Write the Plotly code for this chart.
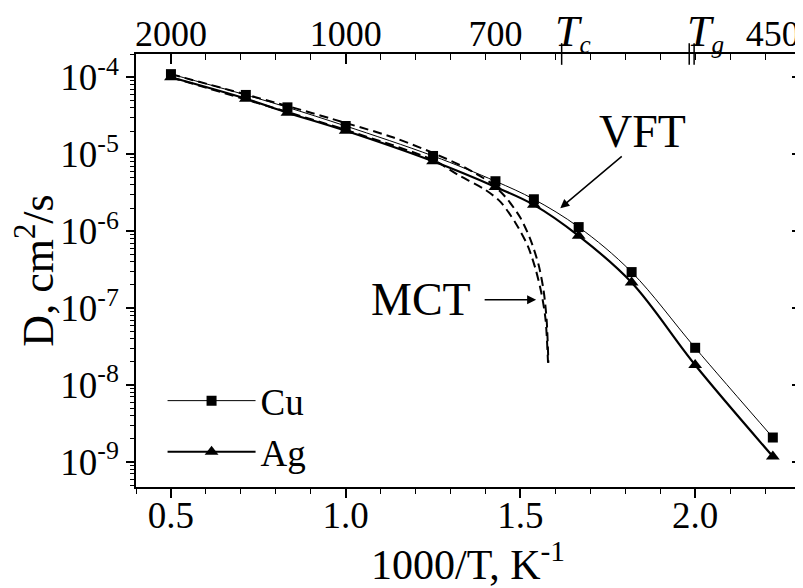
import plotly.graph_objects as go

# ---------------- data ----------------
T_K = [2000, 1400, 1200, 1000, 800, 700, 650, 600, 550, 500, 450]
D_Cu = [1.10e-4, 5.9e-5, 4.07e-5, 2.33e-5, 9.5e-6, 4.46e-6, 2.6e-6, 1.13e-6, 2.94e-7, 3.05e-8, 2.08e-9]
D_Ag = [1.0e-4, 5.27e-5, 3.47e-5, 2.02e-5, 8.1e-6, 3.76e-6, 2.2e-6, 8.7e-7, 2.15e-7, 1.82e-8, 1.18e-9]

mct_cu_x = [0.5, 0.833, 1.0, 1.137, 1.25, 1.343, 1.415, 1.457, 1.5, 1.529, 1.552, 1.566, 1.575, 1.580]
mct_cu_D = [1.10e-4, 4.24e-5, 2.55e-5, 1.65e-5, 1.04e-5, 6.64e-6, 4.24e-6, 2.79e-6, 1.49e-6,
            7.71e-7, 3.65e-7, 1.73e-7, 7.05e-8, 1.95e-8]
mct_ag_x = [0.5, 0.833, 1.0, 1.25, 1.322, 1.400, 1.443, 1.486, 1.521, 1.544, 1.561, 1.572, 1.579]
mct_ag_D = [1.0e-4, 3.54e-5, 2.07e-5, 8.43e-6, 5.38e-6, 3.44e-6, 2.40e-6, 1.28e-6, 6.44e-7,
            3.14e-7, 1.49e-7, 7.05e-8, 1.95e-8]

top_T_labels = [2000, 1000, 700, 450]
Tc_inv = 1.618
Tg_inv = [1.983, 1.997]
Tc_label_x = 1.65
Tg_label_x = 2.03

bottom_ticks = [0.5, 1.0, 1.5, 2.0]
y_decades = [-9, -8, -7, -6, -5, -4]

# ---------------- figure ----------------
FONT = "Liberation Serif, Times New Roman, serif"
inv_T = [1000.0 / t for t in T_K]

fig = go.Figure()

DASH = "9px,5px"
fig.add_trace(go.Scatter(x=mct_cu_x, y=mct_cu_D, mode="lines", showlegend=False,
                         line=dict(color="black", width=2, dash=DASH, shape="spline", smoothing=0.8)))
fig.add_trace(go.Scatter(x=mct_ag_x, y=mct_ag_D, mode="lines", showlegend=False,
                         line=dict(color="black", width=2, dash=DASH, shape="spline", smoothing=0.8)))

fig.add_trace(go.Scatter(x=inv_T, y=D_Cu, mode="lines+markers", name="Cu",
                         line=dict(color="black", width=1, shape="spline", smoothing=1.0),
                         marker=dict(symbol="square", size=10, color="black")))
fig.add_trace(go.Scatter(x=inv_T, y=D_Ag, mode="lines+markers", name="Ag",
                         line=dict(color="black", width=2.2, shape="spline", smoothing=1.0),
                         marker=dict(symbol="triangle-up", size=12, color="black")))

# empty helper traces so that the decorative top / right axes are drawn
for xa, ya in [("x2", "y"), ("x3", "y"), ("x", "y2")]:
    fig.add_trace(go.Scatter(x=[None], y=[None], xaxis=xa, yaxis=ya, mode="markers",
                             showlegend=False, hoverinfo="skip"))

xr = [0.4, 2.3]
yr = [-9.325, -3.697]
minor_x = [round(0.4 + 0.1 * i, 2) for i in range(0, 20)]
y_major = [10.0 ** e for e in y_decades]
y_minor = [m * 10.0 ** e for e in range(-10, -3) for m in range(2, 10)]

axis_common = dict(showgrid=False, zeroline=False, showline=True, linecolor="black",
                   linewidth=1.5, automargin=False)

# the page body adds an 8 px offset, so the figure is drawn 8 px smaller
fig.update_layout(
    template="none",
    width=795, height=580,
    margin=dict(l=128, r=3, t=46, b=101, pad=0),
    plot_bgcolor="white", paper_bgcolor="white",
    font=dict(family=FONT, color="black", size=37),
    showlegend=True,
    xaxis=dict(range=xr, tickvals=bottom_ticks, ticktext=["0.5", "1.0", "1.5", "2.0"],
               ticks="outside", ticklen=9, tickwidth=1.5, tickcolor="black",
               minor=dict(tickvals=minor_x, ticks="outside", ticklen=5, tickwidth=1.2, tickcolor="black"),
               tickfont=dict(size=37), ticklabelstandoff=-14,
               title=dict(text="1000/T, K<sup>-1</sup>", font=dict(size=42), standoff=0),
               **axis_common),
    yaxis=dict(type="log", range=yr, tickvals=y_major,
               ticktext=["10<sup>%d</sup>" % e for e in y_decades],
               ticks="outside", ticklen=8, tickwidth=1.5, tickcolor="black",
               minor=dict(tickvals=y_minor, ticks="outside", ticklen=4, tickwidth=1, tickcolor="black"),
               tickfont=dict(size=37),
               title=dict(text="D, cm<sup>2</sup>/s", font=dict(size=44), standoff=8),
               **axis_common),
    xaxis2=dict(overlaying="x", side="top", anchor="y", range=xr,
                tickvals=[0.5, 1.0], showticklabels=False,
                ticks="inside", ticklen=10, tickwidth=1.5, tickcolor="black",
                minor=dict(tickvals=minor_x, ticks="inside", ticklen=6, tickwidth=1.2, tickcolor="black"),
                **axis_common),
    xaxis3=dict(overlaying="x", side="top", anchor="y", range=xr,
                tickvals=[1000.0 / t for t in top_T_labels] + [Tc_label_x, Tg_label_x],
                ticktext=[str(t) for t in top_T_labels] +
                         ["<span style='font-size:44px'><i>T</i></span><sub><i>c</i></sub>",
                          "<span style='font-size:44px'><i>T</i></span><sub><i>g</i></sub>"],
                ticks="", showline=False, showgrid=False, zeroline=False, automargin=False,
                tickfont=dict(size=36)),
    yaxis2=dict(type="log", overlaying="y", side="right", anchor="x", range=yr,
                tickvals=y_major, showticklabels=False,
                ticks="inside", ticklen=8, tickwidth=1.5, tickcolor="black",
                minor=dict(tickvals=y_minor, ticks="inside", ticklen=4, tickwidth=1, tickcolor="black"),
                **axis_common),
    legend=dict(x=0.04, y=0.27, xanchor="left", yanchor="top", bgcolor="rgba(0,0,0,0)",
                font=dict(size=37), itemwidth=88, tracegroupgap=0, borderwidth=0),
)

# Tc / Tg marks crossing the top axis
for xv in [Tc_inv] + Tg_inv:
    fig.add_shape(type="line", xref="x", yref="paper", x0=xv, x1=xv, y0=0.975, y1=1.025,
                  line=dict(color="black", width=1.5))

# VFT label and arrow
fig.add_annotation(x=1.85, y=-4.71, xref="x", yref="y", text="VFT", showarrow=False,
                   font=dict(size=46))
fig.add_annotation(x=1.614, y=-5.701, xref="x", yref="y", text="", showarrow=True,
                   ax=63, ay=-53, arrowhead=2, arrowsize=1.2, arrowwidth=1.5, arrowcolor="black")
# MCT label and arrow
fig.add_annotation(x=1.215, y=-6.892, xref="x", yref="y", text="MCT", showarrow=False,
                   font=dict(size=46))
fig.add_annotation(x=1.545, y=-6.892, xref="x", yref="y", text="", showarrow=True,
                   ax=-53, ay=0, arrowhead=2, arrowsize=1.2, arrowwidth=1.5, arrowcolor="black")

fig.write_html("out.html")
